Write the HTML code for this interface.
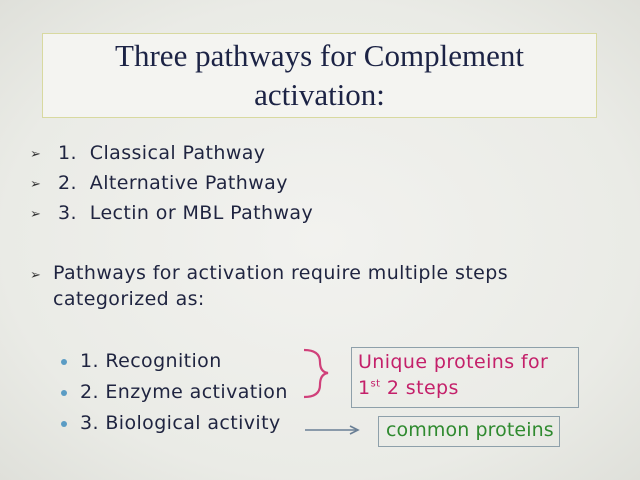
<!DOCTYPE html>
<html><head><style>
body{margin:0;width:640px;height:480px;overflow:hidden;background:radial-gradient(ellipse at center,#f2f2ef 0%,#eaebe6 70%,#dfe0da 100%);position:relative;font-family:"DejaVu Sans","Liberation Sans",sans-serif;color:#1f2440}
.a{position:absolute;white-space:nowrap}
.tb{position:absolute;left:42px;top:33px;width:553px;height:81px;border:1px solid #d8d9a0;background:#f4f4f1;font-family:"Liberation Serif",serif;font-size:31px;text-align:center;line-height:39px;color:#1c2345;padding-top:2px}
.t{font-size:19px;letter-spacing:0.4px}
.ar{font-size:13px;color:#333}
.dot{position:absolute;width:6px;height:6px;border-radius:3px;background:#5a9cc4}
</style></head><body>
<div class="tb">Three pathways for Complement<br>activation:</div>
<div class="a ar" style="left:30px;top:147px">➢</div><div class="a t" style="left:58px;top:142px">1.&nbsp; Classical Pathway</div>
<div class="a ar" style="left:30px;top:177px">➢</div><div class="a t" style="left:58px;top:172px">2.&nbsp; Alternative Pathway</div>
<div class="a ar" style="left:30px;top:207px">➢</div><div class="a t" style="left:58px;top:202px">3.&nbsp; Lectin or MBL Pathway</div>
<div class="a ar" style="left:30px;top:268px">➢</div><div class="a t" style="left:53px;top:262px">Pathways for activation require multiple steps</div>
<div class="a t" style="left:53px;top:288px">categorized as:</div>
<div class="dot" style="left:61px;top:359px"></div><div class="a t" style="left:80px;top:350px">1. Recognition</div>
<div class="dot" style="left:61px;top:390px"></div><div class="a t" style="left:80px;top:381px">2. Enzyme activation</div>
<div class="dot" style="left:61px;top:421px"></div><div class="a t" style="left:80px;top:412px">3. Biological activity</div>
<svg class="a" style="left:0;top:0" width="640" height="480">
<path d="M304 350 Q320 350 320 362 Q320 372 328 373 Q320 374 320 385 Q320 397 304 397" fill="none" stroke="#d0407a" stroke-width="2.2"/>
<line x1="305" y1="430" x2="356" y2="430" stroke="#6a7f95" stroke-width="1.6"/>
<path d="M350 426 L358 430 L350 434" fill="none" stroke="#6a7f95" stroke-width="1.6"/>
</svg>
<div class="a" style="left:351px;top:347px;width:226px;height:59px;border:1px solid #8ea0aa"></div>
<div class="a t" style="left:358px;top:351px;color:#c4206a">Unique proteins for</div>
<div class="a t" style="left:358px;top:377px;color:#c4206a">1<sup style="font-size:10px">st</sup> 2 steps</div>
<div class="a" style="left:378px;top:416px;width:180px;height:29px;border:1px solid #8ea0aa"></div>
<div class="a t" style="left:386px;top:419px;color:#2f8a2f;letter-spacing:0.1px">common proteins</div>
</body></html>
